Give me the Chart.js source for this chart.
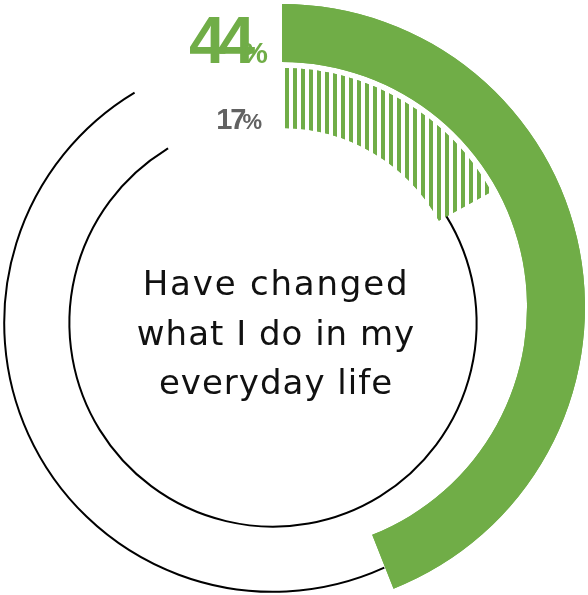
<!DOCTYPE html>
<html>
<head>
<meta charset="utf-8">
<script src="https://cdn.jsdelivr.net/npm/chart.js@4.4.0/dist/chart.umd.min.js"></script>
<style>
  html, body { margin: 0; padding: 0; background: #fff; overflow: hidden; }
  canvas { display: block; }
</style>
</head>
<body>
<canvas id="chart" width="588" height="595"></canvas>
<script>
// values (percent of respondents)
const ringLabels = ['Outer ring', 'Inner ring'];
const ringValues = [44, 17];
const centerText = ['Have changed', 'what I do in my', 'everyday life'];

const green = '#70ad47';
const grey = '#626262';

// vertical stripe fill for the inner ring
function stripePattern() {
  const tile = document.createElement('canvas');
  tile.width = 8;
  tile.height = 8;
  const t = tile.getContext('2d');
  t.fillStyle = green;
  t.fillRect(5, 0, 3, 8);
  t.fillRect(0, 0, 1, 8);
  return t.createPattern(tile, 'repeat');
}

const ctx = document.getElementById('chart').getContext('2d');
const stripes = stripePattern();

const data = {
  labels: ['value', 'rest'],
  datasets: [
    {
      label: ringLabels[0],
      data: [ringValues[0], 100 - ringValues[0]],
      backgroundColor: [green, 'rgba(0,0,0,0)'],
      weight: 58,
    },
    {
      label: 'spacer',
      data: [100],
      backgroundColor: ['rgba(0,0,0,0)'],
      weight: 6,
    },
    {
      label: ringLabels[1],
      data: [ringValues[1], 100 - ringValues[1]],
      backgroundColor: [stripes, 'rgba(0,0,0,0)'],
      weight: 60,
    },
  ],
};

// thin track line over the unfilled part + the % labels
// (in the source the track circles sit a little left of and below the rings)
const ringDecor = {
  id: 'ringDecor',
  afterDatasetsDraw(chart) {
    const c = chart.ctx;
    const trackGap = 31 * Math.PI / 180;
    const trackShift = { x: -9, y: 16 };
    const labelStyle = [
      { num: 'bold 66px "Liberation Sans"', pct: 'bold 30px "Liberation Sans"', color: green, spacing: -7, dx: 14 },
      { num: 'bold 29px "Liberation Sans"', pct: 'bold 22px "Liberation Sans"', color: grey, spacing: -2, dx: 20 },
    ];
    [0, 2].forEach((dsIndex, k) => {
      const meta = chart.getDatasetMeta(dsIndex);
      const valueArc = meta.data[0];
      const restArc = meta.data[1];

      const r = restArc.innerRadius + 0.41 * (restArc.outerRadius - restArc.innerRadius);
      c.save();
      c.beginPath();
      c.arc(restArc.x + trackShift.x, restArc.y + trackShift.y, r,
        restArc.startAngle - 0.05, restArc.endAngle - trackGap);
      c.lineWidth = 2;
      c.strokeStyle = '#000';
      c.stroke();
      c.restore();
    });

    // redraw the filled arcs over the track so it runs beneath them
    [0, 2].forEach(dsIndex => {
      chart.getDatasetMeta(dsIndex).data[0].draw(c);
    });

    [0, 2].forEach((dsIndex, k) => {
      const valueArc = chart.getDatasetMeta(dsIndex).data[0];
      const st = labelStyle[k];
      const numTxt = String(ringValues[k]);
      c.save();
      c.fillStyle = st.color;
      c.textBaseline = 'alphabetic';
      c.textAlign = 'left';
      c.font = st.pct;
      c.letterSpacing = '0px';
      const pctW = c.measureText('%').width;
      c.font = st.num;
      c.letterSpacing = st.spacing + 'px';
      const numW = c.measureText(numTxt).width;
      const right = valueArc.x - st.dx;
      const base = valueArc.y - valueArc.innerRadius + 1;
      c.fillText(numTxt, right - pctW - numW - st.spacing, base);
      c.font = st.pct;
      c.letterSpacing = '0px';
      c.fillText('%', right - pctW, base);
      c.restore();
    });

    // centre caption
    const m = chart.getDatasetMeta(0).data[0];
    c.save();
    c.fillStyle = '#111';
    c.font = '34px "DejaVu Sans"';
    c.textAlign = 'center';
    c.textBaseline = 'alphabetic';
    centerText.forEach((line, i) => {
      c.letterSpacing = (i === 0 ? 1.8 : 1) + 'px';
      c.fillText(line, m.x - 6, m.y - 12 + i * 49.5);
    });
    c.restore();
  },
};

const chart = new Chart(ctx, {
  type: 'doughnut',
  data: data,
  options: {
    responsive: false,
    animation: false,
    events: [],
    radius: 303,
    cutout: '59.08%',
    layout: { padding: { left: 0, right: 24, top: 19, bottom: 0 } },
    datasets: {
      doughnut: { borderWidth: 0, clip: false },
    },
    plugins: {
      legend: { display: false },
      tooltip: { enabled: false },
    },
  },
  plugins: [ringDecor],
});
</script>
</body>
</html>
